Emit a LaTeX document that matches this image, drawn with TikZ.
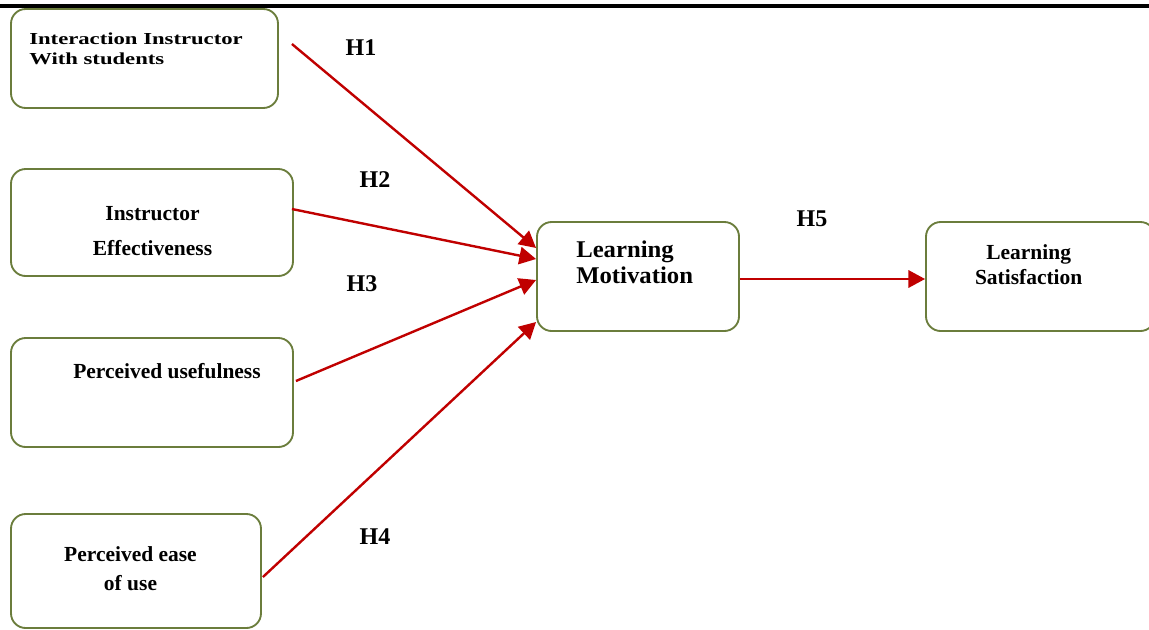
\documentclass[tikz,border=0pt]{standalone}
\usepackage{fontspec}
\setmainfont{Liberation Serif}
\newfontfamily\widefont[FakeStretch=1.35]{Liberation Serif}
\newfontfamily\motfont[FakeStretch=1.03]{Liberation Serif}
\usetikzlibrary{arrows.meta, calc}
\usepackage{xcolor}
\definecolor{boxolive}{HTML}{6B7D3C}
\definecolor{hypred}{HTML}{C00000}

\begin{document}
\begin{tikzpicture}[x=0.75pt, y=-0.75pt]
    \tikzstyle{factor}=[draw=boxolive, line width=1.4pt, rectangle, rounded corners=11pt, inner sep=0pt]
    \tikzstyle{annot}=[inner sep=0pt, font=\bfseries\fontsize{16.1}{25.7}\selectfont, align=center]
    \tikzstyle{hyp}=[draw=hypred, line width=1.8pt, -{Triangle[length=12.5pt, width=13pt]}]
    \tikzstyle{hlabel}=[inner sep=0pt, font=\bfseries\fontsize{18}{20}\selectfont]

    \useasboundingbox (0,0) rectangle (1149,629);
    \fill[white] (0,0) rectangle (1149,629);
    \draw[line width=3pt] (0,6) -- (1149,6);

%   constructs
    \node[factor, minimum width=200.25pt, minimum height=74.25pt] (IIS) at (144.5,58.5) {};
    \node[factor, minimum width=211.5pt, minimum height=80.25pt] (IE) at (152,222.5) {};
    \node[factor, minimum width=211.5pt, minimum height=81.75pt] (PU) at (152,392.5) {};
    \node[factor, minimum width=187.5pt, minimum height=85.5pt] (PEU) at (136,571) {};
    \node[factor, minimum width=151.5pt, minimum height=81.75pt] (LM) at (638,276.5) {};
    \node[factor, minimum width=171.75pt, minimum height=81.75pt] (LS) at (1040.5,276.5) {};

    \node[annot, anchor=west, align=left, font=\widefont\bfseries\fontsize{12.6}{14.6}\selectfont] (IIS-t) at (29,49) {Interaction Instructor\\With students};
    \node[annot] (IE-t) at (152.5,231) {Instructor\\Effectiveness};
    \node[annot] (PU-t) at (167,371.5) {Perceived usefulness};
    \node[annot, font=\bfseries\fontsize{16.1}{21.75}\selectfont] (PEU-t) at (130.5,569) {Perceived ease\\of use};
    \node[annot, anchor=west, align=left, font=\motfont\bfseries\fontsize{18}{19.5}\selectfont] (LM-t) at (576,262.5) {Learning\\Motivation};
    \node[annot, font=\bfseries\fontsize{16.1}{18.5}\selectfont] (LS-t) at (1028.7,264.5) {Learning\\Satisfaction};

%   hypotheses
    \path ($(IIS.east)+(13,-14.5)$) edge[hyp] ($(LM.west)+(0,-28.5)$);
    \path ($(IE.east)+(-2,-13.5)$) edge[hyp] ($(LM.west)+(0,-17.5)$);
    \path ($(PU.east)+(2,-11.5)$) edge[hyp] ($(LM.west)+(0,3.5)$);
    \path ($(PEU.east)+(1,6)$) edge[hyp] ($(LM.west)+(0,45.5)$);
    \path ($(LM.east)+(0,2.5)$) edge[hyp] ($(LS.west)+(0,2.5)$);

	\foreach \h/\x/\y in {1/361/48, 2/375/180, 3/362/284, 4/375/537, 5/812/219}{
		\node[hlabel] (H\h) at (\x,\y) {H\h};
	}
\end{tikzpicture}
\end{document}
